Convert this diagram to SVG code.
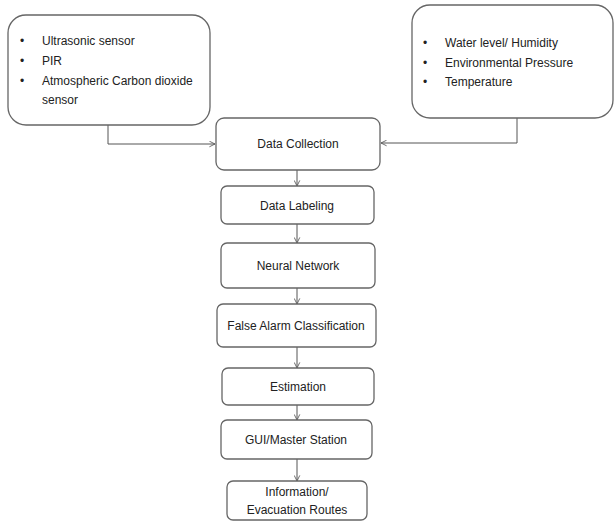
<svg xmlns="http://www.w3.org/2000/svg" width="615" height="521" viewBox="0 0 615 521">
<defs>
<style>
.box{fill:#fff;stroke:#666;stroke-width:1.3}
.t{font-family:"Liberation Sans",Arial,sans-serif;font-size:12px;fill:#222}
.c{text-anchor:middle}
.ln{fill:none;stroke:#555;stroke-width:1}
</style>
<marker id="ah" viewBox="0 0 10 10" refX="9" refY="5" markerWidth="7" markerHeight="7" markerUnits="userSpaceOnUse" orient="auto">
<path d="M1,1 L9,5 L1,9" fill="none" stroke="#555" stroke-width="1.2"/>
</marker>
</defs>
<rect width="615" height="521" fill="#fff"/>
<g id="connectors">
<path class="ln" d="M108,125 V144 H215" marker-end="url(#ah)"/>
<path class="ln" d="M517,118 V143 H381" marker-end="url(#ah)"/>
<path class="ln" d="M297,170 V186" marker-end="url(#ah)"/>
<path class="ln" d="M297,224 V243" marker-end="url(#ah)"/>
<path class="ln" d="M297,288 V304" marker-end="url(#ah)"/>
<path class="ln" d="M297,347 V368" marker-end="url(#ah)"/>
<path class="ln" d="M297,405 V420" marker-end="url(#ah)"/>
<path class="ln" d="M297,459 V481" marker-end="url(#ah)"/>
</g>
<g id="sensors-left">
<rect class="box" x="8" y="15" width="202" height="110" rx="18"/>
<text class="t" x="20" y="45">•</text><text class="t" x="42" y="45">Ultrasonic sensor</text>
<text class="t" x="20" y="65">•</text><text class="t" x="42" y="65">PIR</text>
<text class="t" x="20" y="85">•</text><text class="t" x="42" y="85">Atmospheric Carbon dioxide</text>
<text class="t" x="42" y="104">sensor</text>
</g>
<g id="sensors-right">
<rect class="box" x="412" y="5" width="201" height="113" rx="18"/>
<text class="t" x="423" y="47">•</text><text class="t" x="445" y="47">Water level/ Humidity</text>
<text class="t" x="423" y="67">•</text><text class="t" x="445" y="67">Environmental Pressure</text>
<text class="t" x="423" y="86">•</text><text class="t" x="445" y="86">Temperature</text>
</g>
<g id="data-collection">
<rect class="box" x="216" y="118" width="164" height="52" rx="8"/>
<text class="t c" x="298" y="148">Data Collection</text>
</g>
<g id="data-labeling">
<rect class="box" x="221" y="186" width="153" height="38" rx="6"/>
<text class="t c" x="297" y="210">Data Labeling</text>
</g>
<g id="neural-network">
<rect class="box" x="221" y="243" width="154" height="45" rx="6"/>
<text class="t c" x="298" y="270">Neural Network</text>
</g>
<g id="false-alarm">
<rect class="box" x="217" y="304" width="159" height="43" rx="6"/>
<text class="t c" x="296" y="330">False Alarm Classification</text>
</g>
<g id="estimation">
<rect class="box" x="222" y="368" width="152" height="37" rx="6"/>
<text class="t c" x="298" y="391">Estimation</text>
</g>
<g id="gui">
<rect class="box" x="221" y="420" width="151" height="39" rx="6"/>
<text class="t c" x="296" y="444">GUI/Master Station</text>
</g>
<g id="information">
<rect class="box" x="227" y="481" width="140" height="39" rx="6"/>
<text class="t c" x="297" y="496">Information/</text>
<text class="t c" x="297" y="514">Evacuation Routes</text>
</g>
</svg>
